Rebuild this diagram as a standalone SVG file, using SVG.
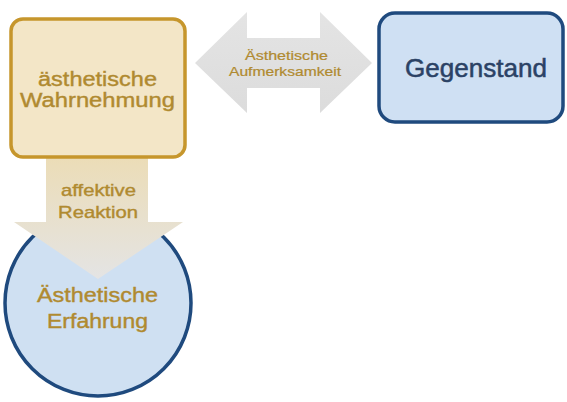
<svg xmlns="http://www.w3.org/2000/svg" width="567" height="402" viewBox="0 0 567 402">
<defs>
<linearGradient id="gDown" x1="0" y1="0" x2="0" y2="1">
<stop offset="0" stop-color="#ecdcb4"/>
<stop offset="1" stop-color="#e4e4e4"/>
</linearGradient>
<linearGradient id="gH" x1="0" y1="0" x2="0" y2="1">
<stop offset="0" stop-color="#e4e4e4"/>
<stop offset="1" stop-color="#dcdcdc"/>
</linearGradient>
<style>
.gold{font-family:"Liberation Sans",Arial,sans-serif;fill:#b08a30;stroke:#b08a30;stroke-width:0.4;text-anchor:middle}
.blue{font-family:"Liberation Sans",Arial,sans-serif;fill:#2b4265;stroke:#2b4265;stroke-width:0.5;text-anchor:middle}
</style>
</defs>
<rect width="567" height="402" fill="#ffffff"/>
<g id="erfahrung">
<circle cx="98" cy="303" r="93" fill="#cfe0f2" stroke="#1f4a7e" stroke-width="3.5"/>
<text class="gold" x="97.5" y="302" font-size="20" textLength="121" lengthAdjust="spacingAndGlyphs">Ästhetische</text>
<text class="gold" x="97.5" y="328" font-size="20" textLength="101" lengthAdjust="spacingAndGlyphs">Erfahrung</text>
</g>
<g id="connectors">
<g id="reaktion">
<polygon points="46,150 148,150 148,222 183,222 98,279 14,222 46,222" fill="url(#gDown)"/>
<text class="gold" x="98.5" y="196" font-size="17" textLength="75" lengthAdjust="spacingAndGlyphs">affektive</text>
<text class="gold" x="98" y="218" font-size="17" textLength="80" lengthAdjust="spacingAndGlyphs">Reaktion</text>
</g>
<g id="aufmerksamkeit">
<polygon points="195,63 247,12 247,38 320,38 320,12 372,63 320,113 320,88 247,88 247,113" fill="url(#gH)"/>
<text class="gold" x="286.5" y="60" font-size="12" textLength="83" lengthAdjust="spacingAndGlyphs" style="stroke-width:0.2">Ästhetische</text>
<text class="gold" x="285" y="76" font-size="12" textLength="112" lengthAdjust="spacingAndGlyphs" style="stroke-width:0.2">Aufmerksamkeit</text>
</g>
</g>
<g id="wahrnehmung">
<rect x="11" y="19" width="174" height="138" rx="12" fill="#f3e6c7" stroke="#c6962c" stroke-width="3.5"/>
<text class="gold" x="97.5" y="86" font-size="20" textLength="119" lengthAdjust="spacingAndGlyphs">ästhetische</text>
<text class="gold" x="97.5" y="107" font-size="20" textLength="155" lengthAdjust="spacingAndGlyphs">Wahrnehmung</text>
</g>
<g id="gegenstand">
<rect x="379" y="13" width="184" height="109" rx="16" fill="#cfe0f3" stroke="#1f4a7e" stroke-width="3.5"/>
<text class="blue" x="476" y="77" font-size="25" textLength="142" lengthAdjust="spacingAndGlyphs">Gegenstand</text>
</g>
</svg>
